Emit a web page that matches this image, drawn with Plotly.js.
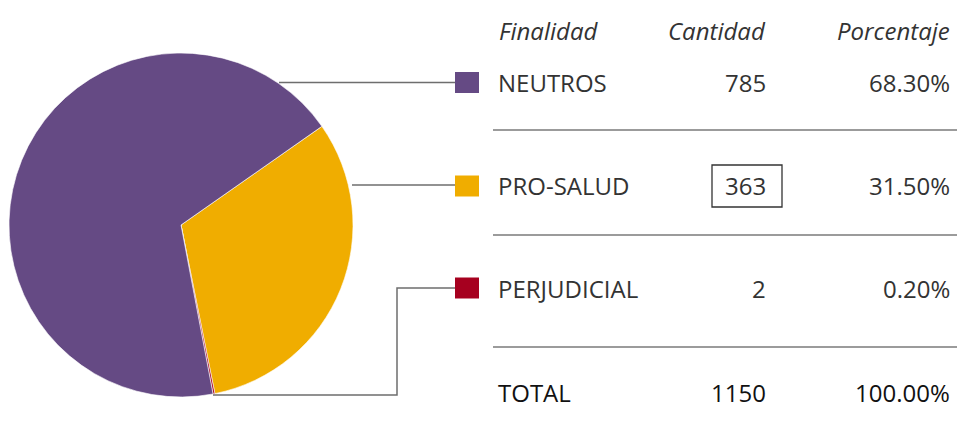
<!DOCTYPE html>
<html>
<head>
<meta charset="utf-8">
<script src="https://cdn.plot.ly/plotly-3.0.1.min.js"></script>
<style>html,body{margin:0;padding:0;background:#fff;}#chart{width:960px;height:424px;}</style>
</head>
<body>
<div id="chart"></div>
<script>
// ---- data ----
var categories = ["NEUTROS", "PRO-SALUD", "PERJUDICIAL"];
var counts = [785, 363, 2];
var percentLabels = ["68.30%", "31.50%", "0.20%"];
var colors = ["#654a84", "#f0ad00", "#a6001f"];
var headers = ["Finalidad", "Cantidad", "Porcentaje"];
var totalLabel = "TOTAL";
var totalCount = "1150";
var totalPercent = "100.00%";
var pieOrder = [1, 2, 0];   // slice order clockwise from start angle
var highlighted = 1;        // boxed quantity

// ---- helpers (pixel -> paper) ----
var W = 960, H = 424;
function px(x) { return x / W; }
function py(y) { return 1 - y / H; }

var font = "Open Sans, Noto Sans, sans-serif";
var textColor = "#333333";

var trace = {
  type: "pie",
  labels: pieOrder.map(function (i) { return categories[i]; }),
  values: pieOrder.map(function (i) { return counts[i]; }),
  marker: { colors: pieOrder.map(function (i) { return colors[i]; }), line: { color: "#ffffff", width: 0.6 } },
  sort: false,
  direction: "clockwise",
  rotation: 55,
  textinfo: "none",
  hoverinfo: "label+value+percent",
  showlegend: false,
  domain: { x: [px(9), px(353)], y: [py(397), py(53)] }
};

var rowY = [82.5, 186, 288];
var sepY = [130, 235, 347];
var totalY = 392;
var headerY = 30;

var annotations = [];
var shapes = [];

// headers
var headerX = [497, 768, 952];
var headerAnchor = ["left", "right", "right"];
headers.forEach(function (h, k) {
  annotations.push({
    xref: "paper", yref: "paper", x: px(headerX[k]), y: py(headerY),
    xanchor: headerAnchor[k], yanchor: "middle", showarrow: false,
    text: h, font: { family: font, size: 24, color: textColor, style: "italic" }
  });
});

// rows
categories.forEach(function (c, i) {
  var y = rowY[i];
  annotations.push({ xref: "paper", yref: "paper", x: px(496), y: py(y), xanchor: "left", yanchor: "middle",
    showarrow: false, text: c, font: { family: font, size: 24, color: textColor } });
  annotations.push({ xref: "paper", yref: "paper", x: px(768), y: py(y), xanchor: "right", yanchor: "middle",
    showarrow: false, text: String(counts[i]), font: { family: font, size: 24, color: textColor } });
  annotations.push({ xref: "paper", yref: "paper", x: px(952), y: py(y), xanchor: "right", yanchor: "middle",
    showarrow: false, text: percentLabels[i], font: { family: font, size: 24, color: textColor } });
  // legend square
  shapes.push({ type: "rect", xref: "paper", yref: "paper",
    x0: px(455), x1: px(479), y0: py(y - 10.5), y1: py(y + 10.5),
    fillcolor: colors[i], line: { width: 0 } });
  // separator line
  shapes.push({ type: "line", xref: "paper", yref: "paper",
    x0: px(493), x1: px(957), y0: py(sepY[i]), y1: py(sepY[i]),
    line: { color: "#7a7a7a", width: 1.5 } });
});

// total row
[[496, "left", totalLabel], [768, "right", totalCount], [952, "right", totalPercent]].forEach(function (t) {
  annotations.push({ xref: "paper", yref: "paper", x: px(t[0]), y: py(totalY), xanchor: t[1], yanchor: "middle",
    showarrow: false, text: t[2], font: { family: font, size: 24, color: "#111111", weight: 500 } });
});

// box around highlighted count
shapes.push({ type: "rect", xref: "paper", yref: "paper",
  x0: px(712), x1: px(782), y0: py(rowY[highlighted] + 21), y1: py(rowY[highlighted] - 21),
  line: { color: "#333333", width: 1.3 }, fillcolor: "rgba(0,0,0,0)" });

// leader lines
var leader = { color: "#6e6e6e", width: 1.5 };
shapes.push({ type: "line", xref: "paper", yref: "paper", x0: px(279), x1: px(455), y0: py(rowY[0]), y1: py(rowY[0]), line: leader });
shapes.push({ type: "line", xref: "paper", yref: "paper", x0: px(352), x1: px(455), y0: py(rowY[1] - 1), y1: py(rowY[1] - 1), line: leader });
shapes.push({ type: "path", xref: "paper", yref: "paper",
  path: "M " + px(455) + "," + py(rowY[2]) + " L " + px(397) + "," + py(rowY[2]) +
        " L " + px(397) + "," + py(395) + " L " + px(213) + "," + py(395),
  line: leader });

var layout = {
  width: W, height: H,
  margin: { l: 0, r: 0, t: 0, b: 0 },
  paper_bgcolor: "#ffffff",
  plot_bgcolor: "#ffffff",
  showlegend: false,
  annotations: annotations,
  shapes: shapes
};

Plotly.newPlot("chart", [trace], layout, { displayModeBar: false, staticPlot: true });
</script>
</body>
</html>
